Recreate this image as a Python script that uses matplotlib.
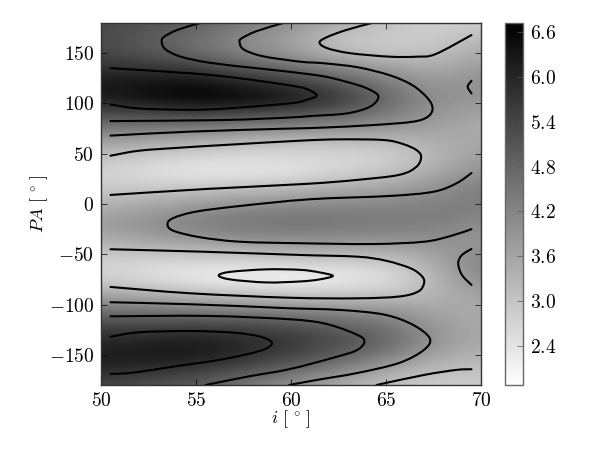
import matplotlib

matplotlib.use("Agg")
import matplotlib.pyplot as plt
from matplotlib.patches import PathPatch
from matplotlib.path import Path
import numpy as np

plt.rcParams["mathtext.fontset"] = "cm"
plt.rcParams["font.family"] = ["cmr10", "DejaVu Sans"]
plt.rcParams["axes.formatter.use_mathtext"] = True
plt.rcParams["axes.unicode_minus"] = True

i_grid = [50, 52.5, 55, 57.5, 60, 62.5, 65, 67.5, 70]
pa_grid = [180, 165, 150, 135, 120, 105, 90, 75, 60, 45, 30, 15, 0, -15, -30, -45, -60, -75, -90, -105, -120, -135, -150, -165, -180]

# value per column, top to bottom, estimated from the gray shade and the contours
col_50 = [5.4, 5.35, 5.4, 5.8, 6.25, 6.15, 5.3, 4.4, 3.6, 3.0, 2.75, 2.9, 3.3, 3.7, 3.6, 3.1, 2.7, 2.85, 3.6, 4.5, 5.4, 5.9, 6.2, 5.95, 5.4]
col_52 = [5.15, 5.0, 5.1, 5.75, 6.4, 6.45, 5.4, 4.35, 3.45, 2.75, 2.5, 2.95, 3.5, 3.95, 3.85, 3.2, 2.6, 2.55, 3.4, 4.4, 5.4, 6.05, 6.3, 5.8, 5.2]
col_55 = [4.95, 4.6, 4.75, 5.6, 6.5, 6.7, 5.5, 4.3, 3.3, 2.55, 2.35, 3.0, 3.75, 4.3, 4.1, 3.3, 2.5, 2.3, 3.2, 4.3, 5.4, 6.15, 6.3, 5.6, 5.0]
col_57 = [4.45, 4.05, 4.2, 5.05, 6.05, 6.65, 5.35, 4.15, 3.1, 2.5, 2.35, 3.15, 3.95, 4.45, 4.25, 3.4, 2.5, 2.15, 3.05, 4.2, 5.35, 5.95, 5.9, 5.2, 4.45]
col_60 = [3.95, 3.7, 3.85, 4.7, 5.7, 6.3, 5.2, 4.05, 3.0, 2.55, 2.45, 3.25, 4.05, 4.55, 4.3, 3.55, 2.65, 2.0, 2.95, 4.15, 5.2, 5.7, 5.45, 4.75, 3.95]
col_62 = [3.45, 3.0, 3.2, 4.2, 5.1, 5.7, 4.9, 3.95, 3.0, 2.6, 2.75, 3.5, 4.1, 4.5, 4.25, 3.5, 2.7, 2.25, 2.95, 4.0, 4.85, 5.25, 5.0, 4.2, 3.45]
col_65 = [3.05, 2.85, 3.0, 3.8, 4.4, 4.8, 4.4, 3.85, 3.05, 2.7, 3.05, 3.65, 4.15, 4.4, 4.15, 3.55, 2.75, 2.45, 2.95, 3.9, 4.55, 4.85, 4.4, 3.55, 3.05]
col_67 = [2.8, 2.85, 3.05, 3.45, 3.8, 3.95, 3.9, 3.65, 3.4, 3.25, 3.55, 3.95, 4.3, 4.4, 4.15, 3.75, 3.45, 3.2, 3.3, 3.55, 3.8, 3.95, 3.6, 3.15, 2.8]
col_70 = [2.85, 3.2, 3.55, 3.8, 4.05, 3.9, 3.6, 3.45, 3.55, 3.8, 4.05, 4.35, 4.35, 4.15, 3.9, 4.0, 4.3, 4.1, 3.7, 3.45, 3.5, 3.5, 3.3, 3.05, 2.85]

# contour lines as (i, PA)
line_a = [(50.5, 135), (54.7, 130), (57.3, 125), (59.9, 118), (60.8, 114.5), (61.35, 108), (60.8, 103.5), (59.9, 100), (56.6, 95), (54.7, 93.7), (52, 95), (50.5, 99)]
line_b = [(55.2, 180), (54, 173), (53.3, 166), (53.2, 160.7), (53.4, 153.7), (54.2, 146.5), (55.7, 140.5), (58.2, 135), (59.9, 131.5), (61.7, 127), (62.9, 121.6), (64, 115), (64.6, 107), (64.15, 96.7), (62.9, 90), (61, 87.5), (59.9, 86), (56.4, 83.5), (50.5, 82.5)]
line_c = [(59.6, 180), (58.2, 172), (57.4, 164.7), (57.3, 160.7), (57.5, 153.8), (58.5, 147), (60.5, 141.5), (61.7, 140), (63.5, 136), (65.2, 128), (66.4, 118), (67.2, 105), (67.45, 95), (67.2, 86.8), (66.4, 81.8), (64.3, 78.5), (61.7, 76), (59.9, 75), (54.7, 72), (50.5, 68)]
line_d = [(50.5, 48), (52, 53), (54.15, 56), (56.4, 58.6), (60.5, 63), (62.6, 64.3), (64.9, 63.6), (65.9, 59.6), (66.6, 53.7), (66.85, 47), (66.6, 37), (65.7, 29), (63.5, 24), (60.8, 20), (55.6, 15), (50.5, 9)]
line_e = [(64.25, 180), (62.9, 173), (61.9, 166), (61.5, 160.7), (61.9, 155), (63.1, 150), (65.2, 146.5), (66.6, 146.5), (67.6, 149), (69.5, 168)]
line_f = [(69.5, 122.6), (69.3, 116.6), (69.5, 110)]
line_g = [(69.5, 30.8), (68.7, 20.5), (67.5, 12.2), (65.2, 8), (61, 4.7), (57.3, -2), (55, -7.6), (53.8, -14), (53.5, -20), (53.8, -26.5), (55.2, -33), (57.3, -37.5), (60.5, -39), (64.3, -39.8), (67, -37.5), (68.4, -31.8), (69.5, -25)]
line_h = [(69.5, -44.7), (69, -50.7), (68.8, -59), (69, -70.6), (69.5, -80.5)]
line_i = [(50.5, -45), (55.3, -47.4), (60.5, -50.7), (63.5, -52.4), (65, -56.4), (66.3, -64), (66.9, -72), (67, -79), (66.7, -87), (65.7, -92), (63.5, -93.8), (59.9, -93.2), (54.7, -88.8), (50.5, -82.5)]
line_j = [(56.2, -71), (56.8, -67.5), (58.7, -65), (60.5, -65.5), (61.5, -68), (62.2, -71.5), (61.5, -75), (60.5, -77), (58.7, -78), (56.8, -75), (56.2, -71)]
line_k = [(50.5, -97.7), (54.7, -99.7), (58.7, -102.7), (59.9, -103.7), (62.6, -105.4), (64.9, -110), (66.4, -120), (67.3, -133.5), (67, -145), (65.7, -158), (63.5, -168), (61.35, -175), (59.9, -180)]
line_l = [(50.5, -111.7), (55.6, -111.3), (59.9, -114.6), (61.7, -118.6), (63.1, -127), (63.85, -135), (63.5, -145), (62.2, -153), (59.9, -164.3), (57.7, -171.7), (55.5, -180)]
line_m = [(50.5, -132), (52, -127.6), (54.7, -126.3), (57, -128), (58.4, -132), (59, -138.5), (58.4, -145.8), (56.4, -154.4), (53.8, -161.7), (51.7, -167.7), (50.5, -169)]
line_n = [(64.5, -180), (67, -170), (68.7, -165), (69.5, -164.3)]

x_ticks = [50, 55, 60, 65, 70]
y_ticks = [-150, -100, -50, 0, 50, 100, 150]
cbar_ticks = [2.4, 3.0, 3.6, 4.2, 4.8, 5.4, 6.0, 6.6]
v_min = 1.88
v_max = 6.72


def curve_through(points):
    # bezier path through the read points, so the lines are not angular
    pts = np.array(points, dtype=float)
    closed = np.allclose(pts[0], pts[-1])
    verts = [pts[0]]
    codes = [Path.MOVETO]
    n = len(pts)
    for k in range(n - 1):
        if closed:
            before = pts[(k - 1) % (n - 1)]
            after = pts[(k + 2) % (n - 1)]
        else:
            before = pts[max(k - 1, 0)]
            after = pts[min(k + 2, n - 1)]
        verts += [pts[k] + (pts[k + 1] - before) / 6, pts[k + 1] - (after - pts[k]) / 6, pts[k + 1]]
        codes += [Path.CURVE4] * 3
    return Path(verts, codes)


values = np.array([col_50, col_52, col_55, col_57, col_60, col_62, col_65, col_67, col_70]).T
lines = [line_a, line_b, line_c, line_d, line_e, line_f, line_g, line_h, line_i, line_j, line_k, line_l, line_m, line_n]

fig = plt.figure(figsize=(6, 4.54), dpi=100)
ax = fig.add_axes([101 / 600, 1 - 385 / 454, 380 / 600, 362 / 454])
cax = fig.add_axes([504.5 / 600, 1 - 385 / 454, 18.5 / 600, 362 / 454])

step_x = i_grid[1] - i_grid[0]
step_y = pa_grid[0] - pa_grid[1]
im = ax.imshow(
    values,
    cmap="gray_r",
    vmin=v_min,
    vmax=v_max,
    interpolation="bicubic",
    aspect="auto",
    extent=[i_grid[0] - step_x / 2, i_grid[-1] + step_x / 2, pa_grid[-1] - step_y / 2, pa_grid[0] + step_y / 2],
)
for line in lines:
    ax.add_patch(PathPatch(curve_through(line), fill=False, edgecolor="black", lw=1.5, capstyle="round"))

ax.set_xlim(50, 70)
ax.set_ylim(-180, 180)
ax.set_xticks(x_ticks)
ax.set_yticks(y_ticks)
ax.set_xticklabels([f"${v}$" for v in x_ticks], fontsize=14)
ax.set_yticklabels([f"${v}$" for v in y_ticks], fontsize=14)
ax.tick_params(direction="in", top=True, right=True, length=4, width=0.5, pad=5)
ax.set_xlabel(r"$i\ [\,^\circ\,]$", fontsize=13, labelpad=-1)
ax.set_ylabel(r"$PA\ [\,^\circ\,]$", fontsize=13, labelpad=-1)
for spine in ax.spines.values():
    spine.set_linewidth(1.0)
    spine.set_color("#333333")

cbar = fig.colorbar(im, cax=cax, ticks=cbar_ticks)
cbar.ax.set_yticklabels([f"${v:.1f}$" for v in cbar_ticks], fontsize=14)
cbar.ax.tick_params(direction="in", length=4, width=0.5, pad=5, color="#555555")
cbar.outline.set_linewidth(1.0)
cbar.outline.set_edgecolor("#666666")

fig.savefig("out.png", dpi=100)
plt.close(fig)
